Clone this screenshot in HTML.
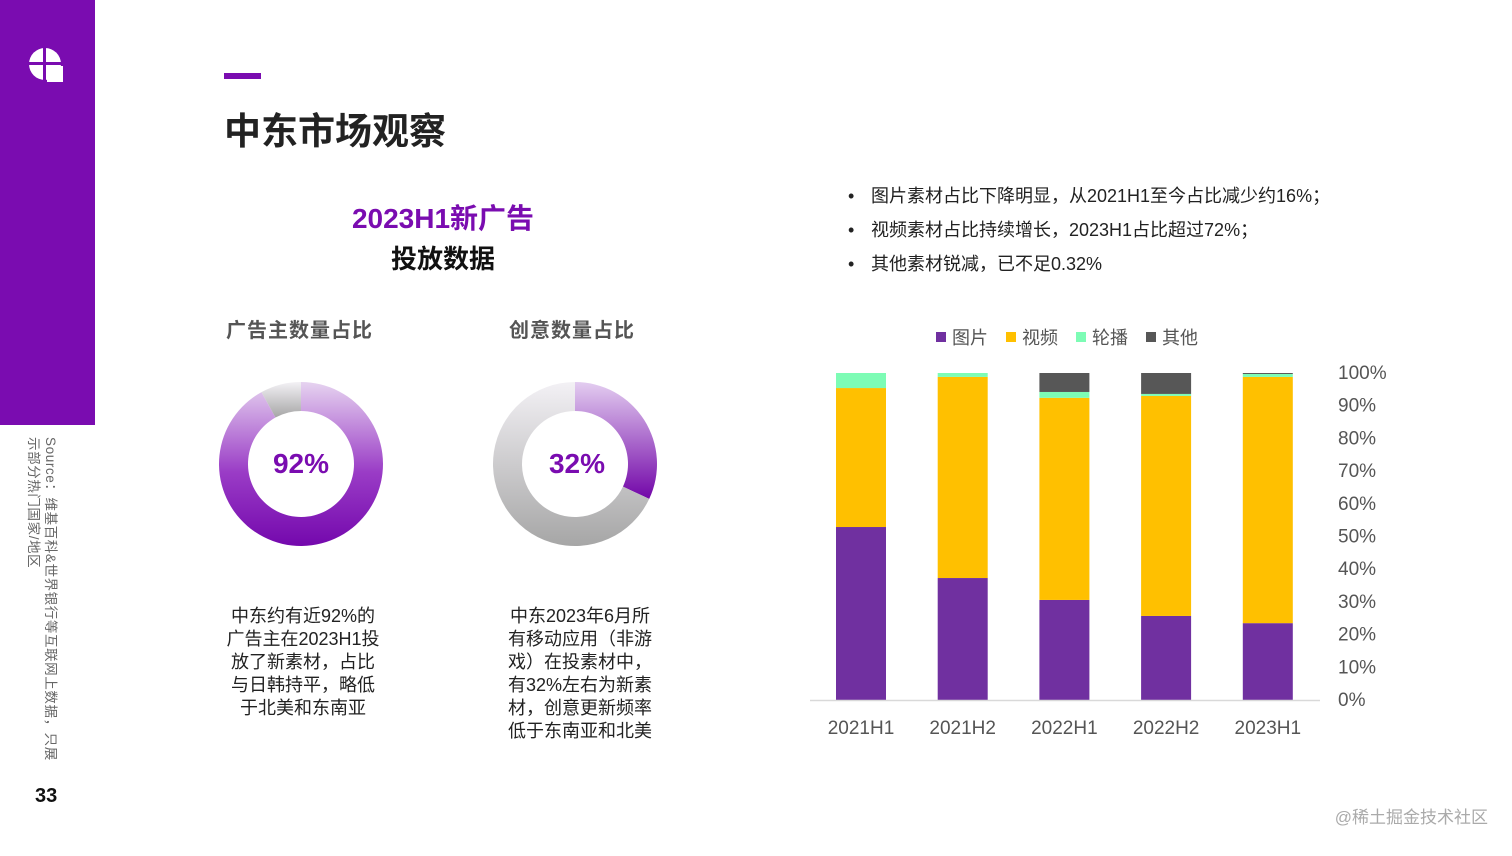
<!DOCTYPE html>
<html><head><meta charset="utf-8">
<style>
html,body{margin:0;padding:0;background:#fff;}
body{width:1512px;height:851px;position:relative;overflow:hidden;font-family:"Liberation Sans","Noto Sans CJK SC",sans-serif;}
svg text{font-family:"Liberation Sans","Noto Sans CJK SC",sans-serif;}
</style></head>
<body>
<svg id="s" width="1512" height="851" viewBox="0 0 1512 851" xmlns="http://www.w3.org/2000/svg">
<defs>
<linearGradient id="gp" x1="0" y1="0" x2="0" y2="1"><stop offset="0" stop-color="#e6d3f0"/><stop offset="0.55" stop-color="#9a3cc6"/><stop offset="1" stop-color="#7408ad"/></linearGradient>
<linearGradient id="gg" x1="0" y1="0" x2="0" y2="1"><stop offset="0" stop-color="#f3f1f5"/><stop offset="1" stop-color="#a6a6a6"/></linearGradient>
<linearGradient id="gp2" x1="0" y1="0" x2="0" y2="1"><stop offset="0" stop-color="#e3cdf0"/><stop offset="1" stop-color="#7206a8"/></linearGradient>
</defs>
<rect x="0" y="0" width="95" height="425" fill="#7a0cb0"/>
<g>
<circle cx="45" cy="64" r="16" fill="#fff"/>
<rect x="43" y="46" width="3" height="36" fill="#7a0cb0"/>
<rect x="27" y="62" width="36" height="3" fill="#7a0cb0"/>
<rect x="47" y="66" width="16" height="16" fill="#fff"/>
</g>
<text x="0" y="0" transform="translate(46,437) rotate(90)" font-size="13.5" letter-spacing="0.6" fill="#666">Source：维基百科&amp;世界银行等互联网上数据，只展</text>
<text x="0" y="0" transform="translate(29,437) rotate(90)" font-size="13.5" letter-spacing="0.6" fill="#666">示部分热门国家/地区</text>
<text x="35" y="802" font-size="20" font-weight="bold" fill="#111">33</text>
<rect x="224" y="73" width="37" height="6" fill="#7a0cb0"/>
<text x="224" y="144" font-size="37" font-weight="bold" fill="#222">中东市场观察</text>
<text x="443" y="228" font-size="28" font-weight="bold" fill="#7a0cb0" text-anchor="middle">2023H1新广告</text>
<text x="443" y="268" font-size="26" font-weight="bold" fill="#111" text-anchor="middle">投放数据</text>
<text x="226" y="337" font-size="20" font-weight="bold" fill="#555" letter-spacing="1">广告主数量占比</text>
<text x="509" y="337" font-size="20" font-weight="bold" fill="#555" letter-spacing="1">创意数量占比</text>
<g id="donuts"></g>
<text x="301" y="473" font-size="28" font-weight="bold" fill="#7a0cb0" text-anchor="middle">92%</text>
<text x="577" y="473" font-size="28" font-weight="bold" fill="#7a0cb0" text-anchor="middle">32%</text>
<g font-size="18" fill="#222" text-anchor="middle">
<text x="303" y="622">中东约有近92%的</text><text x="303" y="645">广告主在2023H1投</text><text x="303" y="668">放了新素材，占比</text><text x="303" y="691">与日韩持平，略低</text><text x="303" y="714">于北美和东南亚</text>
</g>
<g font-size="18" fill="#222" text-anchor="middle">
<text x="580" y="622">中东2023年6月所</text><text x="580" y="645">有移动应用（非游</text><text x="580" y="668">戏）在投素材中，</text><text x="580" y="691">有32%左右为新素</text><text x="580" y="714">材，创意更新频率</text><text x="580" y="737">低于东南亚和北美</text>
</g>
<g font-size="18" fill="#222">
<text x="848" y="202">•</text><text x="871" y="202">图片素材占比下降明显，从2021H1至今占比减少约16%；</text>
<text x="848" y="236">•</text><text x="871" y="236">视频素材占比持续增长，2023H1占比超过72%；</text>
<text x="848" y="270">•</text><text x="871" y="270">其他素材锐减，已不足0.32%</text>
</g>
<g id="legend" font-size="18" fill="#555"></g>
<g id="chart"></g>
<text x="1488" y="823" font-size="17" fill="#aaa" text-anchor="end">@稀土掘金技术社区</text>
</svg>
<script>
const categories=["2021H1","2021H2","2022H1","2022H2","2023H1"];
const seriesNames=["图片","视频","轮播","其他"];
const imageVals=[52.9,37.3,30.6,25.7,23.5];
const videoVals=[42.5,61.5,61.8,67.3,75.3];
const carouselVals=[4.6,1.2,1.8,0.6,0.9];
const otherVals=[0,0,5.8,6.4,0.3];
const yTicks=["0%","10%","20%","30%","40%","50%","60%","70%","80%","90%","100%"];
const donutValues=[92,32];
const NS="http://www.w3.org/2000/svg";
function mk(tag,attrs,parent){const e=document.createElementNS(NS,tag);for(const k in attrs)e.setAttribute(k,attrs[k]);parent.appendChild(e);return e;}
const y0=700,yH=327;
function yS(v){return y0-v/100*yH;}
function xS(i){return 861+i*101.7;}
const colors=["#7030a0","#ffc000","#7dfcb5","#575757"];
const chart=document.getElementById('chart');
const all=[imageVals,videoVals,carouselVals,otherVals];
categories.forEach((c,i)=>{
  let acc=0;
  all.forEach((arr,k)=>{
    const v=arr[i];if(v<=0)return;
    const r=mk('rect',{x:xS(i)-25,y:yS(acc+v),width:50,height:yS(acc)-yS(acc+v),fill:colors[k]},chart);
    
    
    acc+=v;
  });
  const t=mk('text',{x:xS(i),y:734,'text-anchor':'middle','font-size':19,fill:'#555'},chart);
  t.textContent=c;
  
  
});
const base=mk('line',{x1:810,x2:1320,y1:700.5,y2:700.5,stroke:'#d9d9d9','stroke-width':1.5},chart);


yTicks.forEach((t,i)=>{
  const e=mk('text',{x:1338,y:yS(i*10)+6,'font-size':19,fill:'#555'},chart);
  e.textContent=t;
  
  
});
const leg=document.getElementById('legend');
const lx=[936,1006,1076,1146];
seriesNames.forEach((n,k)=>{
  const r=mk('rect',{x:lx[k],y:332,width:10,height:10,fill:colors[k]},leg);
  
  
  const t=mk('text',{x:lx[k]+16,y:344},leg);
  t.textContent=n;
  
  
});
function arc(cx,cy,R,r,a0,a1){
  const p=(a,rad)=>[cx+rad*Math.sin(a),cy-rad*Math.cos(a)];
  const large=(a1-a0)>Math.PI?1:0;
  const [x0,y0_]=p(a0,R),[x1,y1]=p(a1,R),[x2,y2]=p(a1,r),[x3,y3]=p(a0,r);
  return `M${x0} ${y0_}A${R} ${R} 0 ${large} 1 ${x1} ${y1}L${x2} ${y2}A${r} ${r} 0 ${large} 0 ${x3} ${y3}Z`;
}
const dg=document.getElementById('donuts');
const centers=[[301,464],[575,464]];
const fills=[['url(#gp)','url(#gg)'],['url(#gp2)','url(#gg)']];
donutValues.forEach((v,i)=>{
  const [cx,cy]=centers[i];const a=v/100*2*Math.PI;
  const p1=mk('path',{d:arc(cx,cy,82,53,0,a),fill:fills[i][0]},dg);
  
  
  const p2=mk('path',{d:arc(cx,cy,82,53,a,2*Math.PI-0.0001),fill:fills[i][1]},dg);
  
  
});
</script>
</body></html>
